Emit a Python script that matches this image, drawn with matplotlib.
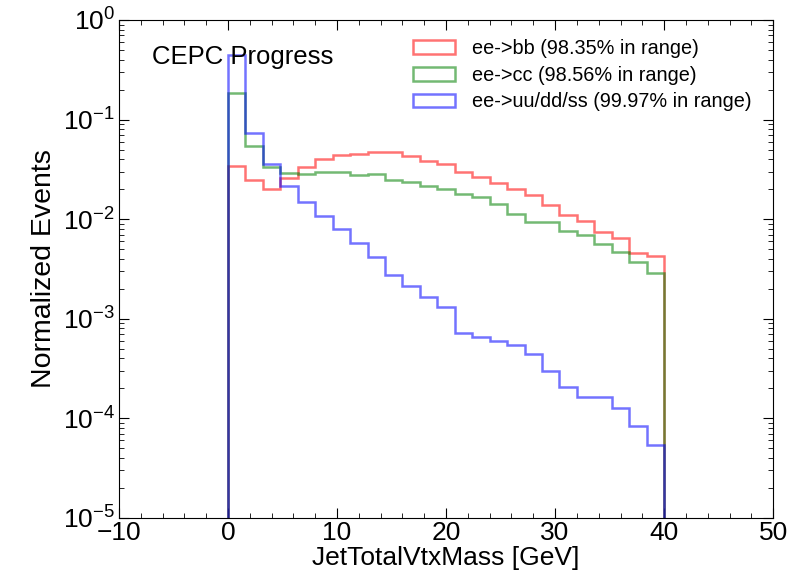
import numpy as np
import matplotlib
matplotlib.use("Agg")
import matplotlib.pyplot as plt

plt.rcParams['font.family'] = ['Liberation Sans', 'DejaVu Sans']
plt.rcParams['mathtext.fontset'] = 'custom'
plt.rcParams['mathtext.rm'] = 'Liberation Sans'
plt.rcParams['mathtext.it'] = 'Liberation Sans:italic'
plt.rcParams['mathtext.default'] = 'regular'

# 25 bins of 1.6 GeV between 0 and 40
edges = np.linspace(0, 40, 26)

bb = [0.0344, 0.0250, 0.0201, 0.0262, 0.0337, 0.0399, 0.0436, 0.0455, 0.0469, 0.0469,
      0.0431, 0.0380, 0.0360, 0.0301, 0.0265, 0.0231, 0.0201, 0.0173, 0.0139, 0.0110,
      0.00959, 0.00749, 0.00643, 0.00455, 0.00424]
cc = [0.183, 0.0539, 0.0337, 0.0294, 0.0284, 0.0296, 0.0296, 0.0275, 0.0284, 0.0247,
      0.0236, 0.0217, 0.0201, 0.0180, 0.0166, 0.0143, 0.0114, 0.00931, 0.00931, 0.00765,
      0.00686, 0.00557, 0.00472, 0.00374, 0.00290]
uds = [0.445, 0.0729, 0.0358, 0.0217, 0.0150, 0.0108, 0.00806, 0.00573, 0.00414, 0.00278,
       0.00213, 0.00164, 0.00131, 0.000715, 0.000649, 0.000598, 0.000546, 0.000445, 0.000297, 0.000208,
       0.000165, 0.000165, 0.000126, 0.0000839, 0.0000537]

labels = ["ee->bb (98.35% in range)",
          "ee->cc (98.56% in range)",
          "ee->uu/dd/ss (99.97% in range)"]
colors = ["r", "g", "b"]

centers = 0.5 * (edges[:-1] + edges[1:])

fig = plt.figure(figsize=(7.93, 5.74), dpi=100)
ax = fig.add_axes([0.150, 0.0976, 0.825, 0.8676])

for vals, lab, col in zip([bb, cc, uds], labels, colors):
    ax.hist(centers, bins=edges, weights=vals, histtype="step", log=True,
            color=col, alpha=0.55, lw=1.8, label=lab)

ax.set_xlim(-10, 50)
ax.set_ylim(1e-5, 1)
ax.set_xticks(np.arange(-10, 51, 10))
ax.xaxis.set_minor_locator(matplotlib.ticker.MultipleLocator(2))
ax.tick_params(which="both", direction="in", top=True, right=True, labelsize=19)
ax.tick_params(which="major", length=7)
ax.tick_params(which="minor", length=3.5)
ax.tick_params(axis="x", pad=2)
ax.tick_params(axis="y", pad=3)

ax.set_xlabel("JetTotalVtxMass [GeV]", fontsize=19, labelpad=1)
ax.set_ylabel("Normalized Events", fontsize=20.5, labelpad=4)

ax.text(0.05, 0.926, "CEPC Progress", transform=ax.transAxes, fontsize=18.5, va="center")
ax.legend(loc="upper right", frameon=False, fontsize=14.3, handlelength=2.1,
          handletextpad=0.9, labelspacing=0.38, bbox_to_anchor=(0.995, 0.997))

fig.savefig("out.png", dpi=100)
